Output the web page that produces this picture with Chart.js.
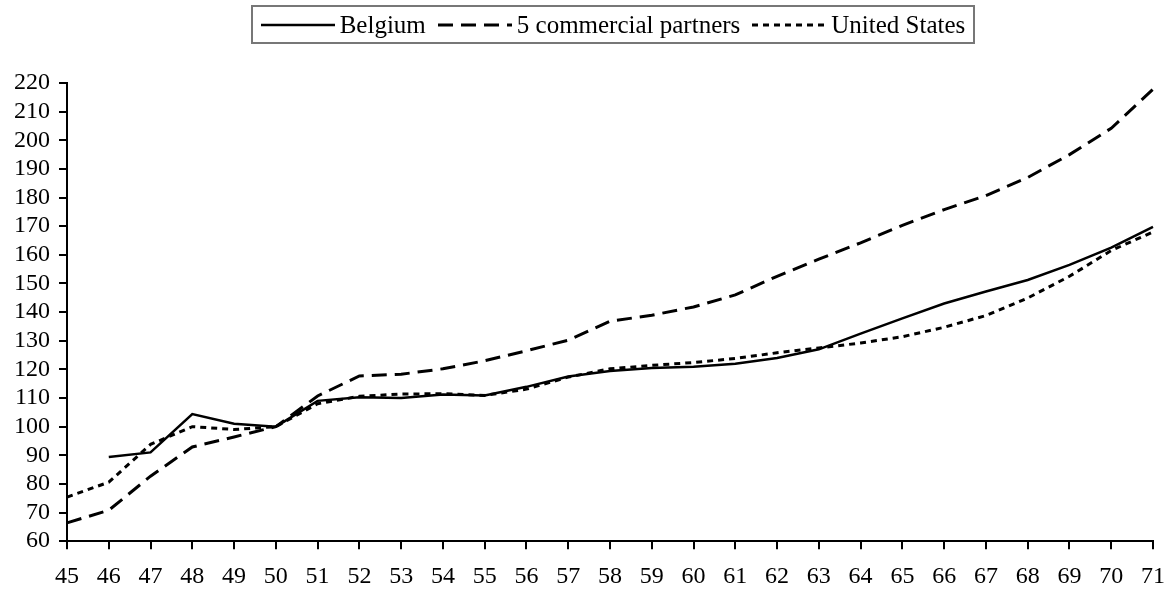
<!DOCTYPE html>
<html>
<head>
<meta charset="utf-8">
<script src="https://cdn.jsdelivr.net/npm/chart.js@4.4.0/dist/chart.umd.min.js"></script>
<style>
  body { margin: 0; background: #fff; }
  #caja { position: relative; width: 1170px; height: 590px; }
  #grafico { position: absolute; left: 0; top: 0; }
  #leyenda {
    position: absolute; left: 251px; top: 5px; width: 720px; height: 35px;
    border: 2px solid #777; display: flex; align-items: center; justify-content: center;
    font-family: "Liberation Serif", "Times New Roman", serif; font-size: 25px; color: #000;
  }
  #leyenda span.txt { margin-left: 5px; margin-right: 12px; white-space: nowrap; }
  #leyenda span.txt:last-child { margin-right: 0; }
</style>
</head>
<body>
<div id="caja">
  <canvas id="grafico" width="1170" height="590"></canvas>
  <div id="leyenda"></div>
</div>
<script>
// años del eje x
var anios = ["45","46","47","48","49","50","51","52","53","54","55","56","57","58","59","60","61","62","63","64","65","66","67","68","69","70","71"];
// series
var belgica = [null, 89.4, 91, 104.4, 101, 100, 109, 110.3, 110, 111.2, 110.9, 113.9, 117.5, 119.4, 120.5, 120.9, 122, 124, 127, 132.5, 137.8, 143, 147.2, 151.2, 156.5, 162.5, 169.8];
var socios = [66.4, 70.8, 82.7, 92.9, 96.4, 100, 110.7, 117.7, 118.3, 120.2, 123, 126.5, 130.2, 136.8, 138.9, 141.8, 146, 152.5, 158.5, 164.2, 170.3, 175.8, 180.7, 187, 195, 204.2, 217.8];
var eeuu = [75.4, 80.6, 93.8, 100, 99, 100, 108, 110.6, 111.4, 111.5, 110.9, 113.1, 117.3, 120.2, 121.4, 122.4, 123.8, 125.8, 127.5, 129.2, 131.4, 134.7, 138.8, 144.9, 152.5, 161.5, 168];
var nombres = ["Belgium", "5 commercial partners", "United States"];
var trazos = [[], [15, 8], [6, 5]];
var grosores = [2.5, 3, 3];

var fuente = '"Liberation Serif", "Times New Roman", serif';

// leyenda hecha a mano con borde
var leyenda = document.getElementById('leyenda');
nombres.forEach(function(nombre, i) {
  var svg = '<svg width="74" height="10"><line x1="0" y1="5" x2="74" y2="5" stroke="#000" stroke-width="' + grosores[i] + '"' +
    (trazos[i].length ? ' stroke-dasharray="' + trazos[i].join(' ') + '"' : '') + '/></svg>';
  leyenda.insertAdjacentHTML('beforeend', svg + '<span class="txt">' + nombre + '</span>');
});

var series = [belgica, socios, eeuu];
var ctx = document.getElementById('grafico').getContext('2d');
var grafico = new Chart(ctx, {
  type: 'line',
  data: {
    labels: anios,
    datasets: series.map(function(valores, i) {
      return {
        label: nombres[i],
        data: valores,
        borderColor: '#000',
        borderWidth: grosores[i],
        borderDash: trazos[i],
        pointRadius: 0,
        fill: false,
        tension: 0
      };
    })
  },
  options: {
    responsive: false,
    animation: false,
    layout: { padding: { left: 5, right: 17, top: 83, bottom: -14 } },
    plugins: { legend: { display: false }, tooltip: { enabled: false } },
    scales: {
      x: {
        offset: false,
        // sin reserva extra para la ultima etiqueta
        afterFit: function(escala) { escala.paddingRight = 0; },
        border: { color: '#000', width: 2 },
        grid: { drawOnChartArea: false, drawTicks: true, tickLength: 8, color: '#000', lineWidth: 2 },
        ticks: { color: '#000', padding: 13, maxRotation: 0, autoSkip: false, font: { family: fuente, size: 24 } }
      },
      y: {
        min: 60,
        max: 220,
        border: { color: '#000', width: 2 },
        grid: { drawOnChartArea: false, drawTicks: true, tickLength: 8, color: '#000', lineWidth: 2 },
        ticks: { stepSize: 10, autoSkip: false, color: '#000', padding: 9, font: { family: fuente, size: 24 } }
      }
    }
  }
});
</script>
</body>
</html>
